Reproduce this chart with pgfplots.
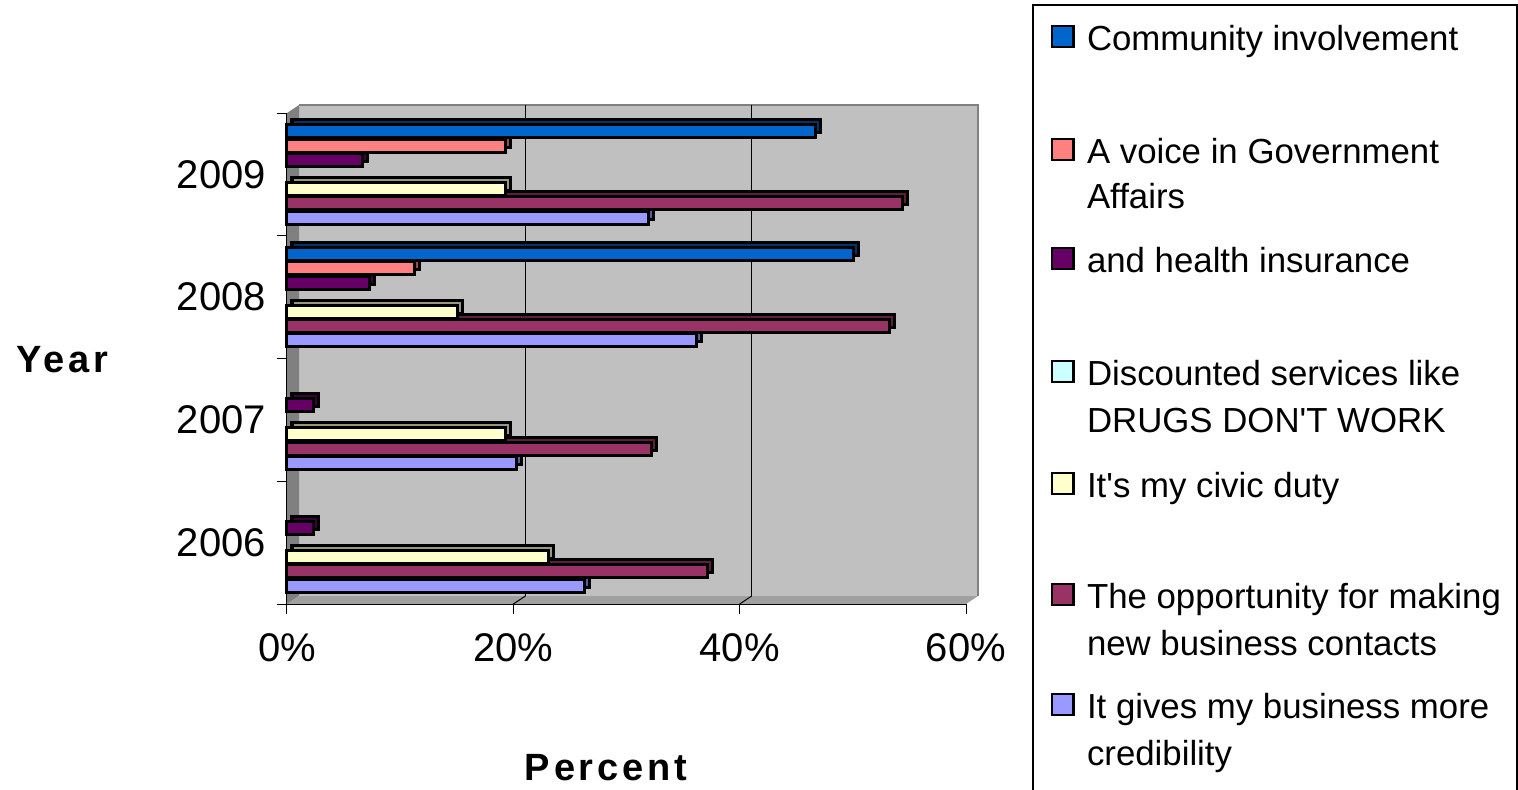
\documentclass[border=0pt]{standalone}
\usepackage{pgfplots}
\pgfplotsset{compat=1.18}
\usepackage{fontspec}
\setmainfont{Liberation Sans}[Ligatures=TeXOff]
\newfontfamily\titlefont{Liberation Sans}[Ligatures=TeXOff,LetterSpace=10]
\definecolor{comm}{HTML}{0066CC}\definecolor{commD}{HTML}{003366}
\definecolor{voice}{HTML}{FF8080}\definecolor{voiceD}{HTML}{994D4D}
\definecolor{health}{HTML}{660066}\definecolor{healthD}{HTML}{3D003D}
\definecolor{disc}{HTML}{CCFFFF}
\definecolor{civic}{HTML}{FFFFCC}\definecolor{civicD}{HTML}{99997A}
\definecolor{opp}{HTML}{993366}\definecolor{oppD}{HTML}{5C1F3D}
\definecolor{cred}{HTML}{9999FF}\definecolor{credD}{HTML}{5C5C99}
\definecolor{wall}{HTML}{C0C0C0}\definecolor{leftwall}{HTML}{808080}
\definecolor{floorc}{HTML}{A0A0A0}
\newcommand{\legfont}{\fontsize{17.4}{21}\selectfont}
\newcommand{\legsq}[2]{\draw[black,line width=1.1pt,fill=#1] (382.6pt,#2pt-5.3pt) rectangle ++(10.6pt,10.6pt);}
\begin{document}
\begin{tikzpicture}
\path[use as bounding box] (-143.5pt,-92.5pt) rectangle (615.5pt,302pt);
% walls
\fill[wall] (6pt,4pt) rectangle (345.5pt,249.5pt);
\draw[leftwall,line width=0.8pt] (6pt,249.5pt) -- (345.5pt,249.5pt) -- (345.5pt,4pt);
\fill[leftwall] (0pt,0pt) -- (6pt,4pt) -- (6pt,249.5pt) -- (0pt,245.5pt) -- cycle;
\fill[floorc] (0pt,0pt) -- (6pt,4pt) -- (345.5pt,4pt) -- (339.5pt,0pt) -- cycle;
\draw[black,line width=0.5pt] (119.17pt,4pt) -- (119.17pt,249.5pt);
\draw[black,line width=0.5pt] (232.33pt,4pt) -- (232.33pt,249.5pt);
\draw[black,line width=0.5pt] (113.17pt,0pt) -- (119.17pt,4pt);
\draw[black,line width=0.5pt] (226.33pt,0pt) -- (232.33pt,4pt);
\begin{axis}[
  at={(0pt,0pt)}, anchor=south west, scale only axis,
  width=339.5pt, height=245.5pt,
  xmin=0, xmax=60, ymin=-0.5, ymax=3.5,
  axis x line*=bottom, axis y line*=left,
  axis line style={black,line width=0.5pt},
  xtick={0,20,40,60}, xticklabels={0\%,20\%,40\%,60\%},
  ytick={-0.5,0.5,1.5,2.5,3.5}, y tick label as interval,
  yticklabels={2006,2007,2008,2009},
  tick align=outside, major tick length=5pt,
  tick style={black,line width=0.5pt},
  ticklabel style={font=\fontsize{20}{24}\selectfont},
  xticklabel style={yshift=-6pt},
  yticklabel style={xshift=-2pt},
  clip=false,
  every axis plot/.append style={xbar, bar width=6.5pt, draw=black, line width=1.5pt},
]
% credibility (bottom of each group)
\addplot[fill=credD, bar shift=-21.6pt, xshift=2.5pt, yshift=2.5pt] coordinates {(31.9,3) (36.2,2) (20.3,1) (26.3,0)};
\addplot[fill=cred, bar shift=-21.6pt] coordinates {(31.9,3) (36.2,2) (20.3,1) (26.3,0)};
% opportunity
\addplot[fill=oppD, bar shift=-14.4pt, xshift=2.5pt, yshift=2.5pt] coordinates {(54.4,3) (53.2,2) (32.2,1) (37.2,0)};
\addplot[fill=opp, bar shift=-14.4pt] coordinates {(54.4,3) (53.2,2) (32.2,1) (37.2,0)};
% civic duty
\addplot[fill=civicD, bar shift=-7.2pt, xshift=2.5pt, yshift=2.5pt] coordinates {(19.3,3) (15.1,2) (19.3,1) (23.1,0)};
\addplot[fill=civic, bar shift=-7.2pt] coordinates {(19.3,3) (15.1,2) (19.3,1) (23.1,0)};
% health insurance
\addplot[fill=healthD, bar shift=7.2pt, xshift=2.5pt, yshift=2.5pt] coordinates {(6.7,3) (7.3,2) (2.3,1) (2.3,0)};
\addplot[fill=health, bar shift=7.2pt] coordinates {(6.7,3) (7.3,2) (2.3,1) (2.3,0)};
% voice
\addplot[fill=voiceD, bar shift=14.4pt, xshift=2.5pt, yshift=2.5pt] coordinates {(19.3,3) (11.3,2)};
\addplot[fill=voice, bar shift=14.4pt] coordinates {(19.3,3) (11.3,2)};
% community
\addplot[fill=commD, bar shift=21.6pt, xshift=2.5pt, yshift=2.5pt] coordinates {(46.7,3) (50.1,2)};
\addplot[fill=comm, bar shift=21.6pt] coordinates {(46.7,3) (50.1,2)};
\end{axis}
% axis titles
\node[font=\titlefont\bfseries\fontsize{19}{22}\selectfont] at (-112.5pt,122pt) {Year};
\node[font=\titlefont\bfseries\fontsize{19}{22}\selectfont] at (159.5pt,-82pt) {Percent};
% legend
\draw[black,line width=0.6pt] (373pt,-100pt) rectangle (615pt,299.5pt);
\legsq{comm}{283.75}
\legsq{voice}{227.25}
\legsq{health}{172.75}
\legsq{disc}{116.25}
\legsq{civic}{60.25}
\legsq{opp}{4.75}
\legsq{cred}{-50.25}
\begin{scope}[every node/.style={anchor=base west,font=\legfont,inner sep=0pt}]
\node at (399.8pt,277pt) {Community involvement};
\node at (399.8pt,220.5pt) {A voice in Government};
\node at (399.8pt,198pt) {Affairs};
\node at (399.8pt,166pt) {and health insurance};
\node at (399.8pt,109.5pt) {Discounted services like};
\node at (399.8pt,86pt) {DRUGS DON'T WORK};
\node at (399.8pt,53.5pt) {It's my civic duty};
\node at (399.8pt,-2pt) {The opportunity for making};
\node at (399.8pt,-25.5pt) {new business contacts};
\node at (399.8pt,-57pt) {It gives my business more};
\node at (399.8pt,-80.5pt) {credibility};
\end{scope}
\end{tikzpicture}
\end{document}
